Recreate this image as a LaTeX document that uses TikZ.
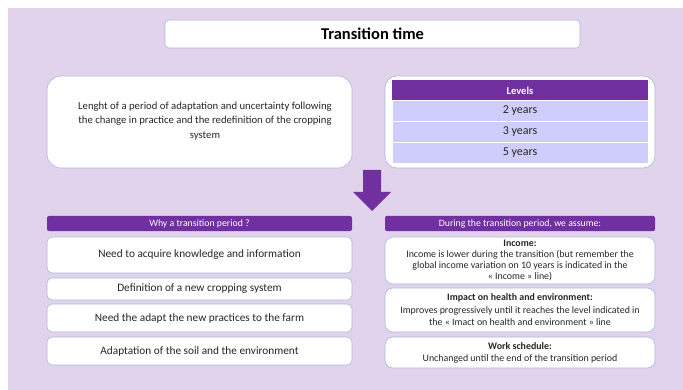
\documentclass[tikz,border=0pt]{standalone}
\usepackage{fontspec}
\setmainfont{Carlito}
\begin{document}
\begin{tikzpicture}[x=1pt,y=-1pt,
  card/.style={draw=bordercol,line width=0.6pt,fill=white,rounded corners=6pt},
  bar/.style={fill=purp,rounded corners=2pt,text=white,font=\fontsize{9.8}{11}\selectfont},
  row/.style={fill=rowcol,draw=white,line width=0.8pt,font=\fontsize{12}{14}\selectfont,text=black!85},
  txt/.style={align=center,text=black!85},
  ltxt/.style={font=\fontsize{11.3}{13}\selectfont,text=black!85}]
\definecolor{bg}{HTML}{E2D3EC}
\definecolor{purp}{HTML}{7030A0}
\definecolor{bordercol}{HTML}{A9B8DC}
\definecolor{rowcol}{HTML}{CFCDFB}
\useasboundingbox (0,0) rectangle (683,390);
\fill[white] (0,0) rectangle (683,390);
\fill[bg] (8,8) rectangle (683,390);
% title
\node[card,rounded corners=4pt,minimum width=415pt,minimum height=28pt,font=\fontsize{16.5}{18}\selectfont\bfseries] (title) at (372.5,34) {Transition time};
% description
\node[card,rounded corners=14pt,minimum width=305pt,minimum height=92pt] (desc) at (199.5,122) {};
\node[txt,font=\fontsize{10.7}{14.5}\selectfont] (desctext) at (205,121) {Lenght of a period of adaptation and uncertainty following\\the change in practice and the redefinition of the cropping\\system};
% levels
\node[card,rounded corners=12pt,minimum width=270pt,minimum height=92pt] (levels) at (520,122) {};
\node[fill=purp,minimum width=256pt,minimum height=20pt,text=white,font=\fontsize{10.5}{12}\selectfont\bfseries] (lvh) at (520,90.5) {Levels};
\node[row,minimum width=256pt,minimum height=21pt] (r2) at (520,111) {2 years};
\node[row,minimum width=256pt,minimum height=21pt] (r3) at (520,132) {3 years};
\node[row,minimum width=256pt,minimum height=21pt] (r5) at (520,153) {5 years};
% arrow
\fill[purp] (363,170) -- (381,170) -- (381,192) -- (391,192) -- (372,211) -- (353,192) -- (363,192) -- cycle;
% left column
\node[bar,minimum width=305pt,minimum height=13pt] (whyh) at (199.5,223.5) {Why a transition period ?};
\node[card,rounded corners=5pt,minimum width=305pt,minimum height=36pt,ltxt] (w1) at (199.5,255) {Need to acquire knowledge and information};
\node[card,rounded corners=5pt,minimum width=305pt,minimum height=22pt,ltxt] (w2) at (199.5,289) {Definition of a new cropping system};
\node[card,rounded corners=5pt,minimum width=305pt,minimum height=28pt,ltxt] (w3) at (199.5,318) {Need the adapt the new practices to the farm};
\node[card,rounded corners=5pt,minimum width=305pt,minimum height=28pt,ltxt] (w4) at (199.5,351) {Adaptation of the soil and the environment};
% right column
\node[bar,minimum width=270pt,minimum height=13pt] (durh) at (520,223.5) {During the transition period, we assume:};
\node[card,rounded corners=8pt,minimum width=270pt,minimum height=47pt] (d1) at (520,260.5) {};
\node[txt,font=\fontsize{9.9}{11.2}\selectfont] (d1t) at (520,260.5) {\textbf{Income:}\\Income is lower during the transition (but remember the\\global income variation on 10 years is indicated in the\\« Income » line)};
\node[card,rounded corners=8pt,minimum width=270pt,minimum height=44pt] (d2) at (520,310) {};
\node[txt,font=\fontsize{9.9}{12.5}\selectfont] (d2t) at (520,310) {\textbf{Impact on health and environment:}\\Improves progressively until it reaches the level indicated in\\the « Imact on health and environment » line};
\node[card,rounded corners=8pt,minimum width=270pt,minimum height=31pt] (d3) at (520,352.5) {};
\node[txt,font=\fontsize{9.9}{12}\selectfont] (d3t) at (520,352.5) {\textbf{Work schedule:}\\Unchanged until the end of the transition period};
\end{tikzpicture}
\end{document}
